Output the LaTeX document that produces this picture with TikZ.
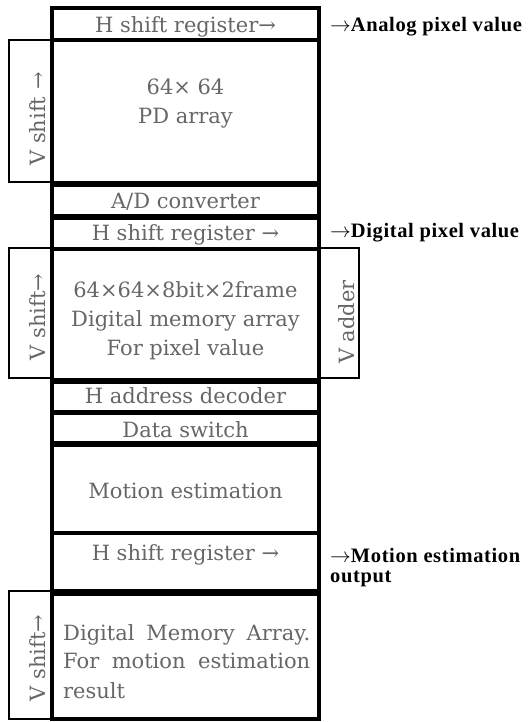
\documentclass[tikz,border=0pt]{standalone}
\usepackage{fontspec}
\newfontfamily\boxfont{DejaVu Serif}
\newfontfamily\lblfont[LetterSpace=3]{Liberation Serif}
\newcommand{\rarr}{\ensuremath{\rightarrow}}
\begin{document}
\begin{tikzpicture}[x=1pt,y=-1pt,
  mainbox/.style={draw, line width=3.4pt, inner sep=0pt, outer sep=0pt, minimum width=267pt},
  sidebox/.style={draw, line width=2.2pt, inner sep=0pt, outer sep=0pt},
  boxtext/.style={font=\boxfont\fontsize{21}{25}\selectfont, text=black!60, inner sep=0pt, anchor=base},
  vtext/.style={font=\boxfont\fontsize{21}{25}\selectfont, text=black!60, inner sep=0pt, rotate=90},
  lbl/.style={font=\lblfont\bfseries\fontsize{20.5}{22}\selectfont, inner sep=0pt, anchor=base west}]
\useasboundingbox (0,0) rectangle (529,722);
% side boxes
\node[sidebox, minimum width=43pt, minimum height=142pt] (vs1) at (30.5,111) {};
\node[sidebox, minimum width=43pt, minimum height=130pt] (vs2) at (30.5,313) {};
\node[sidebox, minimum width=43pt, minimum height=128pt] (vs3) at (30.5,655) {};
\node[sidebox, minimum width=40pt, minimum height=130pt] (vadd) at (339,313) {};
% main column
\node[mainbox, minimum height=32pt] (b1) at (185.5,24) {};
\node[mainbox, minimum height=143pt] (b2) at (185.5,111.5) {};
\node[mainbox, minimum height=31pt] (b3) at (185.5,200.5) {};
\node[mainbox, minimum height=31pt] (b4) at (185.5,233.5) {};
\node[mainbox, minimum height=131pt] (b5) at (185.5,314.5) {};
\node[mainbox, minimum height=30pt] (b6) at (185.5,397) {};
\node[mainbox, minimum height=30pt] (b7) at (185.5,428) {};
\node[mainbox, minimum height=88pt] (b8) at (185.5,489) {};
\node[mainbox, minimum height=58pt] (b9) at (185.5,562) {};
\node[mainbox, minimum height=125pt] (b10) at (185.5,656.5) {};
% texts in main column
\node[boxtext] (t1) at (185.5,33) {H shift register→};
\node[boxtext] (t2a) at (185.5,95) {64× 64};
\node[boxtext] (t2b) at (185.5,124) {PD array};
\node[boxtext] (t3) at (185.5,208) {A/D converter};
\node[boxtext] (t4) at (185.5,240) {H shift register →};
\node[boxtext] (t5a) at (185.5,297) {64×64×8bit×2frame};
\node[boxtext] (t5b) at (185.5,326) {Digital memory array};
\node[boxtext] (t5c) at (185.5,355) {For pixel value};
\node[boxtext] (t6) at (185.5,403) {H address decoder};
\node[boxtext] (t7) at (185.5,437) {Data switch};
\node[boxtext] (t8) at (185.5,498) {Motion estimation};
\node[boxtext] (t9) at (185.5,560) {H shift register →};
\node[boxtext, anchor=base west] (t10a) at (63,640) {\makebox[247pt][s]{Digital Memory Array.}};
\node[boxtext, anchor=base west] (t10b) at (63,668) {\makebox[247pt][s]{For motion estimation}};
\node[boxtext, anchor=base west] (t10c) at (63,698) {result};
% vertical texts
\node[vtext] (v1) at (37.5,119) {V shift →};
\node[vtext] (v2) at (37.5,317) {V shift→};
\node[vtext] (v3) at (37.5,658) {V shift→};
\node[vtext] (v4) at (346.5,322) {V adder};
% right labels
\node[lbl] (l1) at (330,32) {\rarr Analog pixel value};
\node[lbl] (l2) at (330,237) {\rarr Digital pixel value};
\node[lbl] (l3) at (330,562) {\rarr Motion estimation};
\node[lbl] (l4) at (330,582) {output};
\end{tikzpicture}
\end{document}
